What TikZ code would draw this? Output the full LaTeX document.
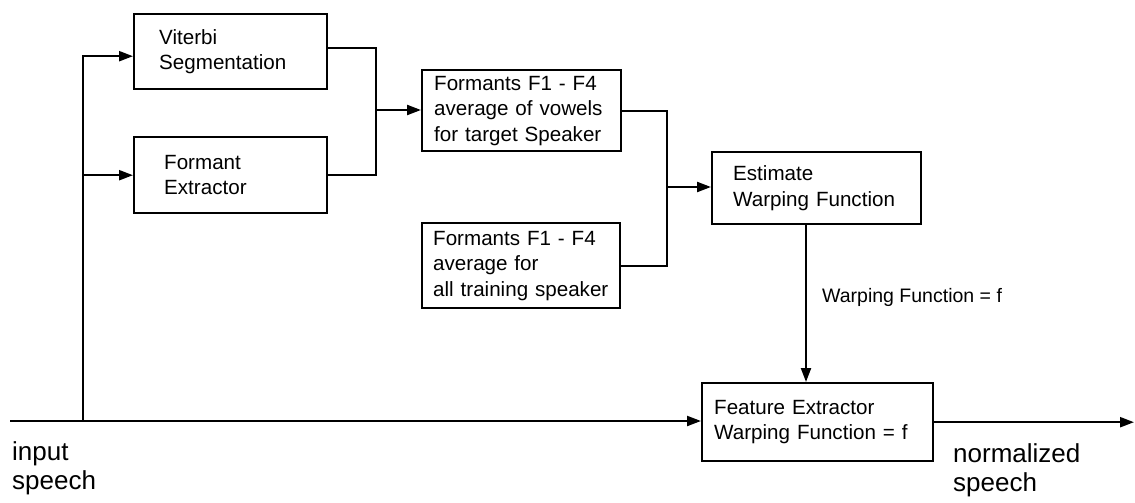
\documentclass[tikz,border=0pt]{standalone}
\usepackage{fontspec}
\setmainfont{Liberation Sans}
\usetikzlibrary{arrows.meta}
\begin{document}
\begin{tikzpicture}[x=1pt,y=-1pt,
  box/.style={draw, line width=2.4pt, anchor=north west, align=left,
    font=\fontsize{20.6}{25.5}\selectfont, inner ysep=0pt},
  conn/.style={line width=2.2pt},
  arr/.style={conn, -{Triangle[length=14pt,width=10pt]}},
  lbl/.style={font=\fontsize{19.5}{24}\selectfont, inner sep=0pt},
  big/.style={font=\fontsize{26}{29}\selectfont, inner sep=0pt, anchor=north west, align=left}]
\useasboundingbox (0,0) rectangle (1135,503);
% boxes
\node[box, minimum width=193pt, minimum height=75pt, inner xsep=25pt, text width=143pt] (vit) at (133,13) {Viterbi\\Segmentation};
\node[box, minimum width=193pt, minimum height=76pt, inner xsep=30pt, text width=133pt] (fx) at (133,136) {Formant\\Extractor};
\node[box, minimum width=199pt, minimum height=81pt, inner xsep=12pt, text width=175pt] (fv) at (421,69) {Formants F1 - F4\\average of vowels\\for target Speaker};
\node[box, minimum width=198pt, minimum height=85pt, inner xsep=9pt, text width=180pt] (fa) at (421,222) {\hspace*{2pt}Formants F1 - F4\\\hspace*{2pt}average for\\\hspace*{2pt}\mbox{all training speaker}};
\node[box, minimum width=209pt, minimum height=72pt, inner xsep=21pt, text width=167pt] (est) at (711,151) {Estimate\\Warping Function};
\node[box, minimum width=231pt, minimum height=78pt, inner xsep=12pt, text width=207pt] (fe) at (701,382) {Feature Extractor\\Warping Function = f};
% coordinates
\coordinate (in) at (10,421);
\coordinate (br) at (83,421);
\coordinate (out) at (1134,421);
\coordinate (j1) at (376,110);
\coordinate (j2) at (667,187);
\coordinate (wx) at (806,0);
% connectors
\draw[arr] (in) -- (in -| fe.west);
\draw[conn] (br) -- (br |- fx.west);
\draw[arr] (br |- fx.west) -- ([yshift=-4.5pt]vit.west -| br) -- ([yshift=-4.5pt]vit.west);
\draw[arr] (br |- fx.west) -- (fx.west);
\draw[conn] ([yshift=3.5pt]vit.east) -| (j1) |- (fx.east);
\draw[arr] (j1) -- (j1 -| fv.west);
\draw[conn] (fv.east) -| (j2) |- (fa.east);
\draw[arr] (j2) -- (j2 -| est.west);
\draw[arr] (est.south -| wx) -- (fe.north -| wx);
\draw[arr] (fe.east) -- (fe.east -| out);
% labels
\node[lbl, anchor=west] (wl) at (822,297) {Warping Function = f};
\node[big] (inl) at (12,441) {input\\speech};
\node[big] (outl) at (953,443) {normalized\\speech};
\end{tikzpicture}
\end{document}
